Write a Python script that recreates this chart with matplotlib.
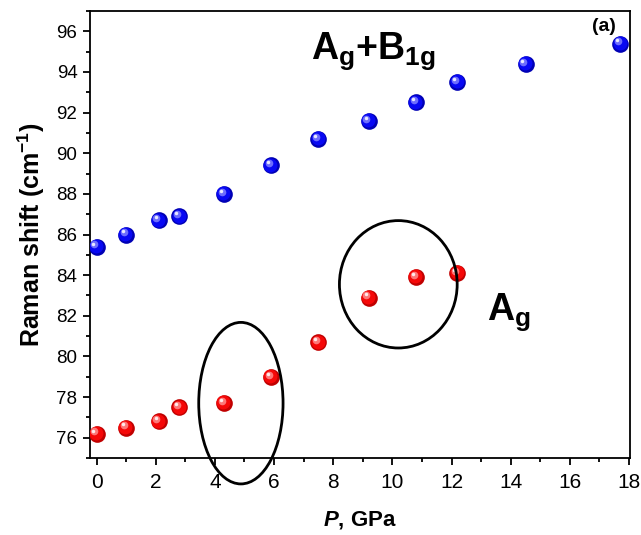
import matplotlib
matplotlib.use('Agg')
import matplotlib.pyplot as plt
import matplotlib.transforms as mtransforms
from matplotlib.patches import Ellipse
from matplotlib.ticker import MultipleLocator

plt.rcParams['font.family'] = ['Liberation Sans', 'DejaVu Sans']
plt.rcParams['mathtext.fontset'] = 'custom'
plt.rcParams['mathtext.rm'] = 'Liberation Sans'
plt.rcParams['mathtext.bf'] = 'Liberation Sans:bold'
plt.rcParams['mathtext.it'] = 'Liberation Sans:bold:italic'

# Data
pressure_b = [0.0, 1.0, 2.1, 2.8, 4.3, 5.9, 7.5, 9.2, 10.8, 12.2, 14.5, 17.7]
shift_b = [85.4, 86.0, 86.7, 86.9, 88.0, 89.4, 90.7, 91.6, 92.5, 93.5, 94.4, 95.4]
pressure_r = [0.0, 1.0, 2.1, 2.8, 4.3, 5.9, 7.5, 9.2, 10.8, 12.2]
shift_r = [76.2, 76.5, 76.8, 77.5, 77.7, 79.0, 80.7, 82.9, 83.9, 84.1]

fig = plt.figure(figsize=(6.41, 5.35), dpi=100)
ax = fig.add_axes([0.1404, 0.1439, 0.8424, 0.8355])


def sphere(ax, x, y, dark, mid, light):
    # shaded ball marker: base disc plus lighter spots shifted up-left
    ax.plot(x, y, 'o', ms=12, mfc=dark, mec=dark, mew=0, zorder=3)
    layers = [(10, mid, 0.5), (5.5, light, 1.6), (2.5, '#ffffff', 2.2)]
    for ms, c, off in layers:
        tr = ax.transData + mtransforms.ScaledTranslation(
            -off / 72, off / 72, fig.dpi_scale_trans)
        ax.plot(x, y, 'o', ms=ms, mfc=c, mec=c, mew=0, alpha=0.85,
                transform=tr, zorder=4)


sphere(ax, pressure_b, shift_b, '#0000b4', '#0a0aff', '#8080ff')
sphere(ax, pressure_r, shift_r, '#c00000', '#ff0a0a', '#ff8c8c')

# Ellipses
e1 = Ellipse((4.88, 77.7), 2.85, 7.95, fill=False, ec='black', lw=2,
             clip_on=False, zorder=5)
e2 = Ellipse((10.2, 83.55), 3.98, 6.27, fill=False, ec='black', lw=2,
             clip_on=False, zorder=5)
ax.add_patch(e1)
ax.add_patch(e2)

# Labels
ax.text(9.37, 94.66, r'$\mathbf{A_g{+}B_{1g}}$', fontsize=27,
        ha='center', va='baseline')
ax.text(13.2, 81.8, r'$\mathbf{A_g}$', fontsize=27, ha='left', va='baseline')
ax.text(17.15, 96.25, '(a)', fontsize=14, fontweight='bold',
        ha='center', va='center')

ax.set_xlim(-0.22, 18.03)
ax.set_ylim(75, 97)
ax.xaxis.set_major_locator(MultipleLocator(2))
ax.xaxis.set_minor_locator(MultipleLocator(1))
ax.yaxis.set_major_locator(MultipleLocator(2))
ax.yaxis.set_minor_locator(MultipleLocator(1))

ax.set_xlabel(r'$P$, GPa', fontsize=16, fontweight='bold', labelpad=12)
ax.set_ylabel(r'Raman shift (cm$^{\mathbf{-1}}$)', fontsize=18,
              fontweight='bold', labelpad=7)

ax.tick_params(which='major', direction='out', length=5, width=1.3)
ax.tick_params(which='minor', direction='out', length=3, width=1.3)
ax.tick_params(axis='x', labelsize=15, pad=6)
ax.tick_params(axis='y', labelsize=13.5, pad=4)
for s in ax.spines.values():
    s.set_linewidth(1.3)

fig.savefig('out.png', dpi=100)
